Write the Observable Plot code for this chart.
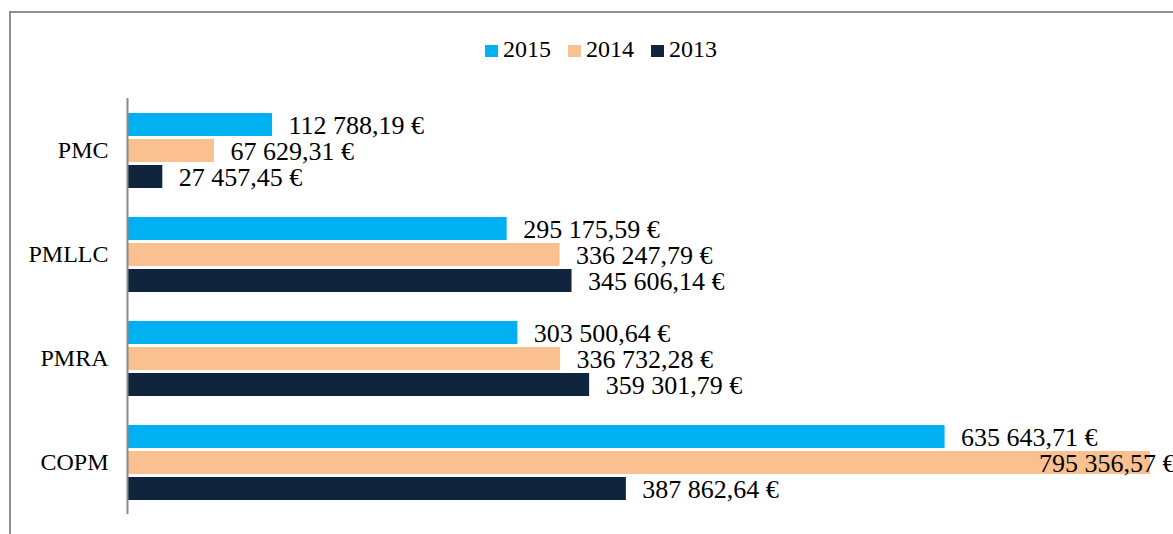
<!DOCTYPE html>
<html>
<head>
<meta charset="utf-8">
<script src="https://cdn.jsdelivr.net/npm/d3@7"></script>
<script src="https://cdn.jsdelivr.net/npm/@observablehq/plot@0.6"></script>
<style>
  html, body { margin: 0; padding: 0; background: #fff; overflow: hidden; }
  #wrap { position: relative; width: 1173px; height: 534px; overflow: hidden; font-family: "Liberation Serif", "Times New Roman", serif; }
  #frame { position: absolute; left: 9px; top: 11px; width: 1300px; height: 700px; border: 2px solid #8f8f8f; box-sizing: border-box; }
  #chart { position: absolute; left: 0; top: 0; }
  #legend { position: absolute; top: 36px; left: 0; width: 1173px; display: flex; justify-content: center; font-size: 24px; color: #000; padding-left: 46px; box-sizing: border-box; }
  .item { display: flex; align-items: center; margin-right: 17px; }
  .sw { width: 13px; height: 12px; margin-right: 5px; margin-top: 2px; }
</style>
</head>
<body>
<div id="wrap">
  <div id="frame"></div>
  <div id="chart"></div>
  <div id="legend"></div>
</div>
<script>
const categories = ["PMC", "PMLLC", "PMRA", "COPM"];
const years = ["2015", "2014", "2013"];
const v2015 = [112788.19, 295175.59, 303500.64, 635643.71];
const v2014 = [67629.31, 336247.79, 336732.28, 795356.57];
const v2013 = [27457.45, 345606.14, 359301.79, 387862.64];
const colors = ["#00b0f0", "#fac090", "#10243e"];

const series = {"2015": v2015, "2014": v2014, "2013": v2013};
const data = [];
categories.forEach((c, i) => {
  years.forEach(y => data.push({cat: c, year: y, value: series[y][i]}));
});
const maxV = d3.max(data, d => d.value);

const loc = d3.formatLocale({decimal: ",", thousands: " ", grouping: [3], currency: ["", " €"]});
const f = loc.format(",.2f");
const fmt = v => f(v) + " €";

const plot = Plot.plot({
  width: 1173,
  height: 534,
  marginTop: 98,
  marginBottom: 20,
  marginLeft: 127,
  marginRight: 23,
  style: {fontFamily: "'Liberation Serif', 'Times New Roman', serif", fontSize: "24px", color: "#000", background: "transparent", overflow: "visible"},
  x: {domain: [0, maxV], axis: null},
  fy: {domain: categories, padding: 0, axis: "left", tickSize: 0, tickPadding: 19, label: null},
  y: {domain: years, axis: null, paddingInner: 0.13, paddingOuter: 0.565},
  color: {domain: years, range: colors},
  marks: [
    Plot.barX(data, {x: "value", y: "year", fy: "cat", fill: "year"}),
    Plot.text(data.filter(d => d.value < maxV), {x: "value", y: "year", fy: "cat", text: d => fmt(d.value), textAnchor: "start", dx: 16, dy: 1, fontSize: 26, fill: "#000"}),
    Plot.text(data.filter(d => d.value === maxV), {x: "value", y: "year", fy: "cat", text: d => fmt(d.value), textAnchor: "end", dx: 25, dy: 1, fontSize: 26, fill: "#000"}),
    Plot.ruleX([0], {stroke: "#898989", strokeWidth: 2})
  ]
});
document.getElementById("chart").appendChild(plot);

const legend = document.getElementById("legend");
years.forEach((y, i) => {
  const it = document.createElement("div");
  it.className = "item";
  const sw = document.createElement("div");
  sw.className = "sw";
  sw.style.background = colors[i];
  const t = document.createElement("span");
  t.textContent = y;
  it.appendChild(sw);
  it.appendChild(t);
  legend.appendChild(it);
});
</script>
</body>
</html>
